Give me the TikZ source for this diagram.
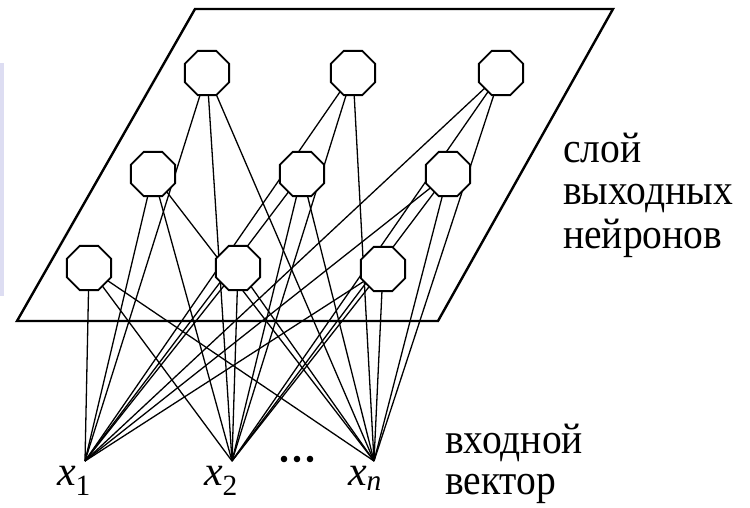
\documentclass[tikz,border=0pt]{standalone}
\usepackage{fontspec}
\setmainfont{Liberation Serif}
\newfontfamily\capfont[FakeStretch=0.92]{Liberation Serif}
\usetikzlibrary{shapes.geometric,backgrounds}
\tikzset{
  neuron/.style={draw, line width=1.9pt, regular polygon, regular polygon sides=8, minimum size=48pt, inner sep=0pt, outer sep=0pt, fill=white},
  conn/.style={line width=1.3pt},
  plane/.style={line width=2.4pt, line join=miter},
  caption/.style={anchor=base west, inner sep=0pt, font=\capfont\fontsize{43}{42}\selectfont},
  xlabel/.style={anchor=base, inner sep=0pt, font=\fontsize{42}{42}\selectfont},
}
\definecolor{lav}{RGB}{221,221,242}
\begin{document}
\begin{tikzpicture}[x=1pt,y=-1pt]
\useasboundingbox (0,0) rectangle (750,507);
% neurons
\node[neuron] (t1) at (207,73) {};
\node[neuron] (t2) at (353,73) {};
\node[neuron] (t3) at (501,73) {};
\node[neuron] (m1) at (153,174) {};
\node[neuron] (m2) at (302,174) {};
\node[neuron] (m3) at (448,174) {};
\node[neuron] (b1) at (89,268) {};
\node[neuron] (b2) at (238,268) {};
\node[neuron] (b3) at (383,269) {};
% inputs
\coordinate (x1) at (85,461);
\coordinate (x2) at (232,461);
\coordinate (xn) at (374,461);
\begin{scope}[on background layer]
\fill[lav] (0,63) rectangle (3.5,296);
\coordinate (p1) at (195,9);
\coordinate (p2) at (613,9);
\coordinate (p3) at (438,321);
\coordinate (p4) at (17,321);
\draw[plane] (p1) -- (p2) -- (p3) -- (p4) -- cycle;
\foreach \i in {x1,x2,xn}{
  \foreach \n in {t1,t2,t3,m1,m2,m3,b1,b2,b3}{
    \draw[conn] (\i) -- (\n);
  }
}
\end{scope}
% dots
\fill (284,459) circle (3.3);
\fill (297,459) circle (3.3);
\fill (310,459) circle (3.3);
% input labels
\node[xlabel] (lx1) at (74,485) {\textit{x}\textsubscript{1}};
\node[xlabel] (lx2) at (221,485) {\textit{x}\textsubscript{2}};
\node[xlabel] (lxn) at (365,485) {\textit{x}\textsubscript{\textit{n}}};
% captions
\node[caption] (c1) at (563,162) {слой};
\node[caption] (c2) at (563,204) {выходных};
\node[caption] (c3) at (563,248) {нейронов};
\node[caption] (d1) at (445,453) {входной};
\node[caption] (d2) at (445,494) {вектор};
\end{tikzpicture}
\end{document}
